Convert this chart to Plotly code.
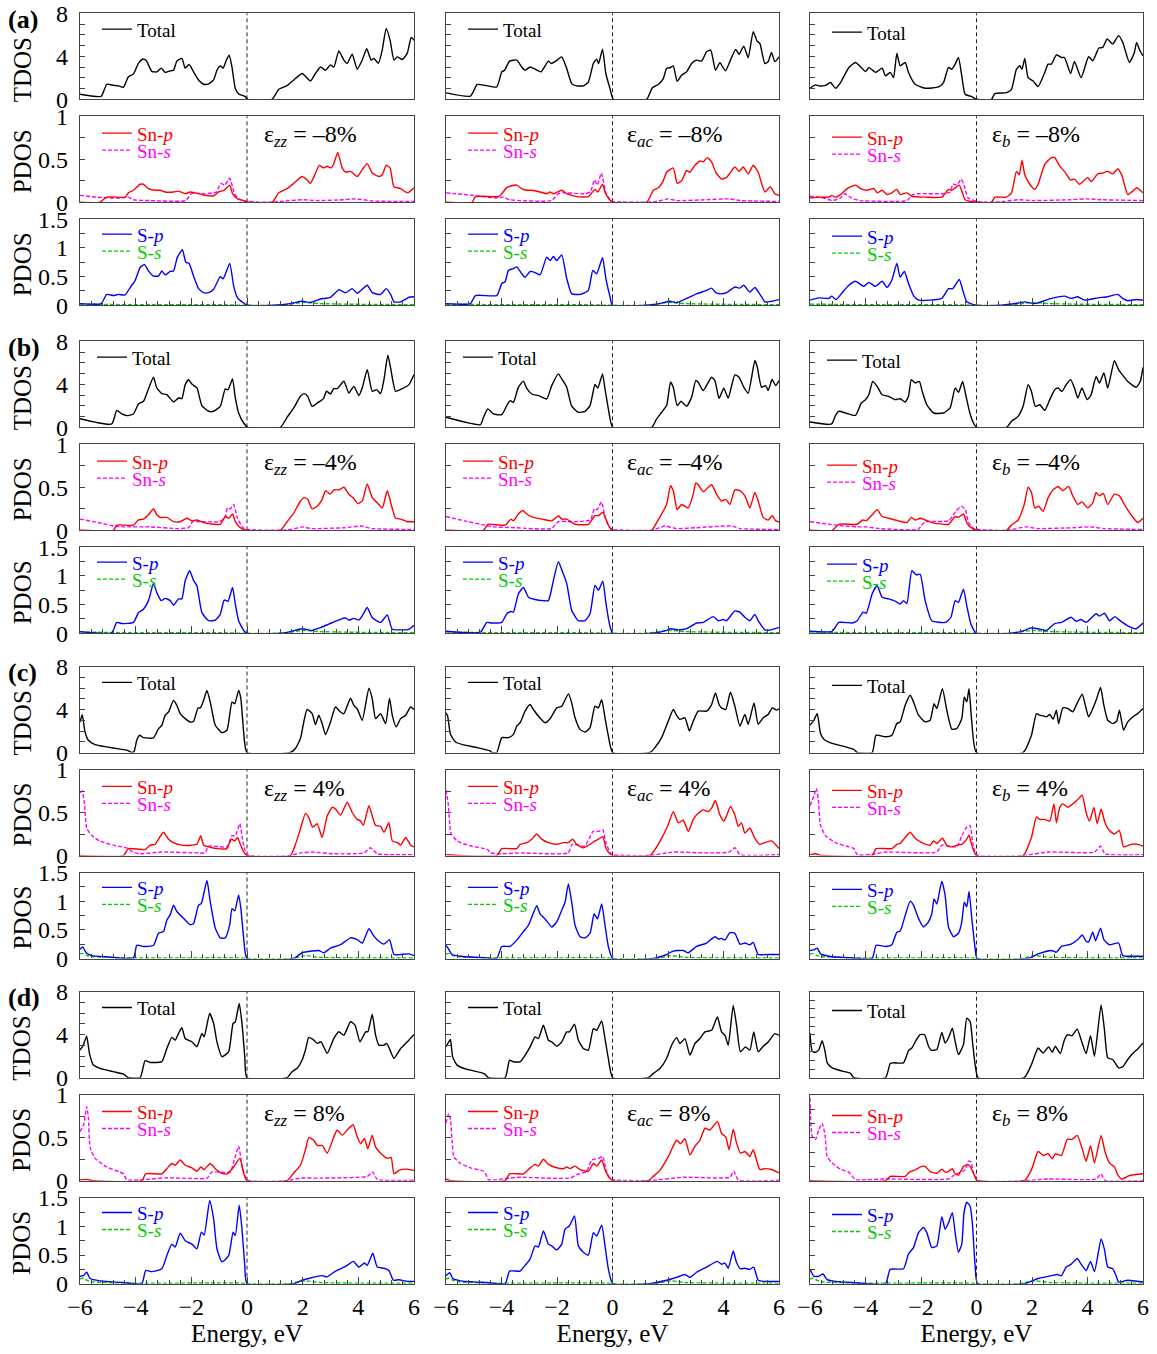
import plotly.graph_objects as go

FONT = "Liberation Serif"
W, H = 1157, 1354
FERMI = 0.0

# ---------------- (a) strain = -8 % ----------------
tdos_zz_m8 = [(-6,0.47),(-5.24,0.28),(-5.04,1.4),(-4.8,1.3),(-4.62,1.25),(-4.44,1.1),(-4.26,2.1),(-4.08,2.35),(-3.9,3.35),(-3.74,3.75),(-3.62,3.6),(-3.42,2.6),(-3.24,2.55),(-3.08,2.9),(-2.94,2.5),(-2.76,2.65),(-2.64,2.7),(-2.52,3.55),(-2.34,3.8),(-2.22,2.9),(-2.08,3.25),(-1.92,2.55),(-1.74,1.8),(-1.56,1.4),(-1.38,1.43),(-1.2,1.8),(-1.08,2.7),(-0.96,3.1),(-0.86,2.9),(-0.74,3.65),(-0.64,4.1),(-0.54,3.0),(-0.42,1.0),(-0.3,0.5),(-0.06,0.25),(0.02,0.0),(0.9,0.0),(1.14,0.93),(1.44,1.27),(1.68,1.8),(1.98,2.4),(2.1,2.15),(2.28,1.7),(2.46,2.4),(2.64,3.0),(2.82,2.7),(3.0,3.2),(3.12,3.0),(3.3,4.5),(3.48,3.65),(3.6,3.35),(3.78,4.2),(3.96,2.8),(4.14,3.65),(4.3,4.7),(4.46,3.65),(4.56,3.8),(4.72,3.35),(4.86,4.6),(5.0,6.6),(5.14,5.5),(5.28,3.65),(5.4,3.95),(5.58,3.7),(5.76,4.3),(5.9,5.75),(6.0,5.5)]
snp_zz_m8 = [(-6,0),(-5.3,0),(-5.04,0.06),(-4.38,0.06),(-4.26,0.11),(-4.08,0.14),(-3.84,0.21),(-3.72,0.21),(-3.54,0.16),(-3.3,0.14),(-3.12,0.14),(-2.94,0.12),(-2.64,0.12),(-2.46,0.13),(-2.22,0.1),(-2.04,0.12),(-1.86,0.11),(-1.56,0.085),(-1.2,0.075),(-1.02,0.12),(-0.82,0.14),(-0.62,0.2),(-0.52,0.1),(-0.34,0.04),(-0.12,0.02),(0.06,0),(0.9,0),(1.14,0.11),(1.44,0.16),(1.68,0.22),(1.98,0.3),(2.16,0.26),(2.28,0.22),(2.46,0.34),(2.6,0.43),(2.74,0.4),(2.88,0.42),(3.02,0.4),(3.12,0.45),(3.26,0.58),(3.42,0.4),(3.54,0.35),(3.72,0.36),(3.96,0.3),(4.14,0.38),(4.32,0.45),(4.5,0.34),(4.74,0.3),(4.86,0.32),(5.0,0.43),(5.14,0.4),(5.28,0.18),(5.52,0.16),(5.76,0.11),(6,0.17)]
sns_zz_m8 = [(-6,0.08),(-5.4,0.06),(-4.9,0.05),(-4.5,0.05),(-4.26,0.06),(-4.1,0.03),(-3.5,0.02),(-2.2,0.02),(-2.0,0.1),(-1.5,0.1),(-1.1,0.12),(-0.95,0.22),(-0.8,0.2),(-0.62,0.28),(-0.45,0.1),(-0.3,0.04),(0,0.01),(0.9,0),(1.2,0.01),(2.0,0.03),(2.5,0.02),(3.5,0.03),(3.75,0.04),(4.2,0.03),(4.5,0.015),(6,0.01)]
sp_zz_m8 = [(-6,0.03),(-5.24,0.03),(-5.04,0.19),(-4.8,0.17),(-4.62,0.19),(-4.38,0.18),(-4.2,0.31),(-4.02,0.43),(-3.84,0.66),(-3.68,0.71),(-3.54,0.6),(-3.36,0.51),(-3.18,0.51),(-3.06,0.6),(-2.94,0.53),(-2.76,0.59),(-2.64,0.6),(-2.5,0.84),(-2.32,0.97),(-2.2,0.75),(-2.08,0.73),(-1.92,0.51),(-1.74,0.29),(-1.56,0.22),(-1.38,0.22),(-1.2,0.28),(-0.96,0.5),(-0.86,0.46),(-0.62,0.73),(-0.48,0.34),(-0.34,0.13),(-0.12,0.04),(0.02,0),(0.96,0),(1.56,0.03),(1.98,0.07),(2.28,0.05),(2.64,0.11),(3.0,0.14),(3.3,0.27),(3.54,0.22),(3.78,0.29),(3.96,0.21),(4.32,0.35),(4.5,0.22),(4.8,0.19),(5.0,0.29),(5.16,0.19),(5.28,0.06),(5.52,0.06),(5.82,0.14),(6,0.15)]
ss_m8 = [(-6,0.02),(-5,0.015),(-4,0.01),(-1,0.01),(0,0),(1.2,0),(2.0,0.05),(2.6,0.03),(3.5,0.02),(6,0.01)]

tdos_ac_m8 = [(-6,0.6),(-5.12,0.3),(-4.88,1.37),(-4.59,1.3),(-4.17,1.15),(-3.99,2.55),(-3.89,2.7),(-3.71,3.55),(-3.45,3.65),(-3.27,3.0),(-3.15,2.7),(-2.97,3.0),(-2.79,2.8),(-2.58,2.55),(-2.31,3.55),(-2.21,3.33),(-2.07,3.5),(-1.83,3.95),(-1.65,2.87),(-1.47,1.46),(-1.29,1.25),(-1.05,1.25),(-0.87,1.6),(-0.69,3.33),(-0.57,3.74),(-0.5,3.33),(-0.36,4.67),(-0.24,2.4),(-0.09,1.0),(0.03,0),(1.23,0),(1.43,1.06),(1.65,1.37),(1.83,1.93),(1.95,2.87),(2.09,2.96),(2.19,3.1),(2.33,1.68),(2.49,2.24),(2.67,2.55),(2.85,3.33),(3.03,3.64),(3.21,3.55),(3.39,4.42),(3.54,4.58),(3.71,2.7),(3.87,3.4),(4.07,2.65),(4.25,3.64),(4.44,4.64),(4.56,4.17),(4.73,4.95),(4.89,3.86),(5.07,6.3),(5.21,5.42),(5.31,5.2),(5.49,3.33),(5.61,3.5),(5.73,4.36),(5.85,3.5),(6.0,3.95)]
snp_ac_m8 = [(-6,0),(-5.06,0),(-4.94,0.066),(-4.1,0.066),(-3.99,0.1),(-3.81,0.17),(-3.66,0.19),(-3.45,0.2),(-3.27,0.16),(-3.09,0.14),(-2.91,0.14),(-2.61,0.12),(-2.37,0.1),(-2.25,0.12),(-2.13,0.1),(-1.83,0.14),(-1.65,0.1),(-1.29,0.066),(-0.87,0.066),(-0.63,0.15),(-0.53,0.12),(-0.36,0.21),(-0.27,0.12),(-0.15,0.05),(0,0),(1.23,0),(1.47,0.14),(1.65,0.17),(1.83,0.25),(1.95,0.35),(2.19,0.4),(2.33,0.22),(2.49,0.25),(2.67,0.37),(2.79,0.35),(2.97,0.43),(3.15,0.48),(3.27,0.47),(3.41,0.52),(3.57,0.47),(3.72,0.35),(3.93,0.27),(4.11,0.29),(4.41,0.41),(4.56,0.36),(4.71,0.41),(4.89,0.33),(5.07,0.43),(5.25,0.35),(5.49,0.12),(5.69,0.18),(5.85,0.1),(6,0.08)]
sns_ac_m8 = [(-6,0.11),(-5,0.08),(-4.2,0.05),(-3.95,0.06),(-3.7,0.03),(-2.2,0.02),(-1.95,0.1),(-1.8,0.11),(-1.0,0.1),(-0.8,0.12),(-0.65,0.26),(-0.55,0.2),(-0.4,0.34),(-0.25,0.12),(-0.1,0.03),(0,0.01),(1.2,0),(1.6,0.01),(2.0,0.04),(2.3,0.02),(3.4,0.03),(4.2,0.04),(4.6,0.02),(6,0.01)]
sp_ac_m8 = [(-6,0.03),(-5.12,0.03),(-4.94,0.17),(-4.17,0.17),(-3.99,0.38),(-3.87,0.41),(-3.75,0.61),(-3.57,0.64),(-3.45,0.67),(-3.27,0.55),(-3.15,0.49),(-2.97,0.59),(-2.79,0.57),(-2.61,0.53),(-2.37,0.84),(-2.25,0.78),(-2.13,0.85),(-2.01,0.78),(-1.83,0.88),(-1.65,0.47),(-1.47,0.2),(-1.17,0.19),(-0.87,0.26),(-0.71,0.61),(-0.57,0.55),(-0.36,0.83),(-0.24,0.47),(-0.09,0.15),(0,0),(1.23,0),(1.71,0.03),(2.07,0.07),(2.31,0.05),(2.67,0.12),(3.03,0.2),(3.39,0.26),(3.57,0.3),(3.72,0.22),(3.87,0.2),(4.11,0.22),(4.41,0.32),(4.59,0.3),(4.73,0.35),(4.95,0.23),(5.13,0.31),(5.37,0.15),(5.49,0.06),(5.73,0.07),(5.91,0.09),(6,0.1)]

tdos_b_m8 = [(-6,1.03),(-5.8,1.34),(-5.68,1.25),(-5.44,1.3),(-5.26,1.56),(-5.08,1.03),(-4.9,1.56),(-4.6,2.96),(-4.36,3.43),(-4.18,3.02),(-4.0,2.59),(-3.88,2.96),(-3.64,2.5),(-3.4,2.9),(-3.28,2.18),(-3.11,2.5),(-2.99,2.02),(-2.87,4.27),(-2.75,3.12),(-2.57,3.43),(-2.45,2.5),(-2.21,1.4),(-1.85,1.03),(-1.37,1.15),(-1.19,1.56),(-1.01,2.96),(-0.89,2.8),(-0.77,3.27),(-0.65,3.89),(-0.53,2.18),(-0.41,0.47),(-0.17,0.25),(0,0),(0.54,0),(0.66,0.53),(1.08,0.62),(1.26,0.93),(1.44,2.8),(1.56,3.12),(1.64,2.8),(1.74,3.8),(1.86,2.02),(2.04,1.71),(2.22,1.18),(2.46,2.5),(2.58,3.27),(2.7,3.27),(2.88,4.14),(3.06,3.89),(3.17,3.89),(3.39,2.4),(3.53,3.52),(3.77,2.02),(4.04,3.96),(4.19,3.58),(4.41,4.77),(4.55,4.83),(4.71,5.61),(4.91,5.14),(5.12,5.92),(5.27,5.3),(5.51,3.43),(5.69,4.36),(5.77,5.3),(5.89,4.52),(6,4.05)]
snp_b_m8 = [(-6,0.05),(-5.68,0.06),(-5.32,0.06),(-5.22,0.08),(-5.08,0.06),(-4.9,0.09),(-4.66,0.16),(-4.36,0.2),(-4.18,0.16),(-3.94,0.14),(-3.7,0.16),(-3.58,0.11),(-3.4,0.14),(-3.22,0.09),(-3.05,0.11),(-2.87,0.15),(-2.75,0.09),(-2.51,0.11),(-2.33,0.07),(-1.85,0.06),(-1.25,0.06),(-1.01,0.15),(-0.89,0.14),(-0.62,0.2),(-0.53,0.13),(-0.41,0.03),(0,0),(0.54,0),(0.66,0.06),(1.08,0.06),(1.26,0.11),(1.44,0.36),(1.54,0.32),(1.64,0.49),(1.74,0.32),(1.92,0.21),(2.1,0.15),(2.22,0.21),(2.46,0.44),(2.7,0.52),(2.82,0.52),(3.0,0.42),(3.17,0.36),(3.39,0.26),(3.53,0.27),(3.71,0.21),(4.01,0.29),(4.13,0.24),(4.37,0.33),(4.55,0.34),(4.73,0.36),(4.91,0.33),(5.09,0.39),(5.23,0.32),(5.45,0.09),(5.63,0.13),(5.77,0.17),(6,0.11)]
sns_b_m8 = [(-6,0.07),(-5.5,0.05),(-5.2,0.02),(-4.9,0.05),(-4.75,0.1),(-4.5,0.05),(-4.2,0.02),(-2.8,0.01),(-2.5,0.02),(-2.3,0.09),(-2.1,0.1),(-1.2,0.1),(-0.95,0.12),(-0.85,0.21),(-0.7,0.2),(-0.55,0.27),(-0.45,0.2),(-0.3,0.05),(0,0.01),(0.6,0),(1.0,0.01),(1.5,0.03),(2.0,0.02),(3.4,0.03),(4.0,0.04),(4.5,0.03),(6,0.02)]
sp_b_m8 = [(-6,0.09),(-5.68,0.13),(-5.32,0.12),(-5.22,0.16),(-5.06,0.1),(-4.84,0.22),(-4.6,0.35),(-4.36,0.42),(-4.06,0.33),(-3.88,0.4),(-3.64,0.33),(-3.4,0.42),(-3.22,0.31),(-3.05,0.44),(-2.87,0.73),(-2.75,0.49),(-2.6,0.59),(-2.45,0.38),(-2.27,0.17),(-2.09,0.09),(-1.25,0.12),(-1.01,0.29),(-0.86,0.29),(-0.62,0.45),(-0.51,0.29),(-0.35,0.06),(0,0),(0.9,0),(1.5,0.04),(1.74,0.06),(2.1,0.03),(2.7,0.12),(3.17,0.16),(3.41,0.12),(3.65,0.15),(3.89,0.09),(4.37,0.13),(4.73,0.15),(5.09,0.19),(5.27,0.12),(5.45,0.08),(5.75,0.1),(6,0.09)]

# ---------------- (b) strain = -4 % ----------------
tdos_zz_m4 = [(-6,0.8),(-4.86,0.31),(-4.68,1.58),(-4.5,1.24),(-4.32,1.09),(-4.08,1.24),(-3.9,2.17),(-3.72,2.42),(-3.54,3.57),(-3.36,4.65),(-3.24,3.66),(-3.06,3.13),(-2.88,3.04),(-2.64,2.36),(-2.46,2.73),(-2.34,2.67),(-2.22,3.97),(-2.1,4.43),(-1.98,4.03),(-1.8,3.66),(-1.62,2.02),(-1.38,1.49),(-1.2,1.49),(-0.96,1.95),(-0.78,3.57),(-0.68,3.5),(-0.52,4.5),(-0.42,2.73),(-0.3,1.33),(-0.12,0.4),(0.02,0),(1.2,0),(1.44,0.93),(1.68,1.8),(1.92,2.88),(2.06,3.13),(2.18,2.88),(2.34,1.95),(2.58,2.36),(2.74,2.64),(2.86,3.35),(3.0,3.1),(3.12,3.6),(3.24,3.6),(3.48,4.28),(3.66,3.19),(3.84,3.81),(4.02,2.95),(4.14,3.66),(4.32,5.36),(4.5,3.35),(4.66,3.5),(4.8,3.13),(4.92,4.43),(5.06,6.7),(5.16,5.52),(5.34,3.35),(5.58,3.6),(5.82,3.97),(6,4.9)]
snp_zz_m4 = [(-6,0),(-4.8,0),(-4.68,0.06),(-4.08,0.06),(-3.9,0.12),(-3.72,0.13),(-3.54,0.18),(-3.36,0.25),(-3.24,0.18),(-3.12,0.15),(-2.88,0.15),(-2.64,0.1),(-2.4,0.1),(-2.16,0.14),(-1.98,0.11),(-1.8,0.12),(-1.56,0.09),(-1.2,0.07),(-0.96,0.07),(-0.78,0.16),(-0.66,0.14),(-0.52,0.19),(-0.42,0.1),(-0.24,0.03),(0,0),(1.2,0),(1.44,0.1),(1.68,0.2),(1.92,0.34),(2.06,0.38),(2.18,0.36),(2.34,0.25),(2.52,0.28),(2.7,0.36),(2.82,0.46),(3.0,0.42),(3.12,0.47),(3.3,0.47),(3.48,0.5),(3.66,0.42),(3.84,0.37),(3.98,0.31),(4.14,0.34),(4.32,0.54),(4.5,0.38),(4.68,0.32),(4.86,0.26),(5.04,0.46),(5.18,0.3),(5.34,0.14),(5.52,0.13),(5.76,0.1),(6,0.1)]
sns_zz_m4 = [(-6,0.13),(-5.2,0.08),(-4.8,0.05),(-4.4,0.04),(-3.5,0.04),(-2.5,0.02),(-2.1,0.03),(-1.95,0.1),(-1.6,0.1),(-1.0,0.1),(-0.8,0.14),(-0.7,0.26),(-0.6,0.25),(-0.48,0.3),(-0.35,0.15),(-0.15,0.03),(0,0.01),(1.2,0),(1.6,0.01),(2.0,0.04),(2.3,0.02),(3.5,0.03),(4.1,0.05),(4.5,0.02),(6,0.01)]
sp_zz_m4 = [(-6,0.03),(-4.86,0.01),(-4.68,0.19),(-4.5,0.17),(-4.08,0.19),(-3.9,0.36),(-3.72,0.42),(-3.54,0.57),(-3.36,0.87),(-3.24,0.71),(-3.08,0.57),(-2.94,0.61),(-2.76,0.57),(-2.64,0.49),(-2.46,0.6),(-2.34,0.6),(-2.22,0.92),(-2.06,1.09),(-1.92,0.92),(-1.8,0.83),(-1.62,0.36),(-1.38,0.22),(-1.14,0.23),(-0.96,0.33),(-0.82,0.58),(-0.68,0.56),(-0.52,0.8),(-0.42,0.51),(-0.3,0.22),(-0.12,0.05),(0.02,0),(1.2,0),(1.56,0.03),(1.98,0.08),(2.34,0.05),(2.64,0.1),(2.94,0.16),(3.24,0.22),(3.54,0.27),(3.66,0.23),(3.84,0.26),(4.02,0.23),(4.16,0.32),(4.32,0.45),(4.5,0.27),(4.8,0.19),(5.04,0.32),(5.22,0.07),(5.52,0.06),(5.82,0.07),(6,0.14)]
ss_m4 = [(-6,0.025),(-5,0.015),(-4,0.01),(-1,0.01),(0,0),(1.2,0),(2.0,0.05),(2.6,0.03),(3.5,0.02),(6,0.01)]

tdos_ac_m4 = [(-6,0.93),(-4.76,0.25),(-4.65,0.93),(-4.49,1.71),(-4.29,1.24),(-3.99,1.18),(-3.81,2.02),(-3.69,2.48),(-3.57,2.33),(-3.39,3.73),(-3.21,4.29),(-3.09,3.63),(-2.91,3.1),(-2.67,2.95),(-2.37,2.64),(-2.19,3.88),(-1.95,4.97),(-1.83,4.5),(-1.65,3.73),(-1.47,1.96),(-1.23,1.4),(-0.99,1.49),(-0.81,2.02),(-0.63,3.98),(-0.53,3.66),(-0.36,4.97),(-0.27,3.57),(-0.15,1.71),(0.01,0),(1.41,0),(1.59,0.78),(1.77,1.4),(1.95,2.02),(2.09,4.19),(2.19,3.73),(2.33,2.02),(2.47,2.42),(2.67,1.96),(2.85,2.8),(3.0,4.35),(3.09,4.19),(3.27,3.42),(3.57,4.66),(3.69,4.35),(3.84,2.7),(4.01,3.63),(4.17,2.73),(4.41,4.88),(4.56,4.66),(4.73,3.73),(4.89,3.17),(5.13,6.21),(5.21,5.68),(5.37,3.73),(5.52,3.88),(5.61,3.42),(5.75,4.44),(5.88,3.88),(6,4.35)]
snp_ac_m4 = [(-6,0),(-4.65,0),(-4.49,0.07),(-3.87,0.06),(-3.66,0.13),(-3.57,0.11),(-3.39,0.19),(-3.23,0.23),(-3.09,0.19),(-2.85,0.15),(-2.55,0.13),(-2.19,0.11),(-1.95,0.17),(-1.83,0.13),(-1.65,0.13),(-1.35,0.07),(-0.87,0.07),(-0.63,0.17),(-0.51,0.17),(-0.35,0.21),(-0.24,0.13),(-0.12,0.04),(0.01,0),(1.41,0),(1.59,0.09),(1.77,0.19),(1.95,0.3),(2.09,0.52),(2.19,0.46),(2.33,0.24),(2.49,0.3),(2.73,0.26),(2.91,0.42),(3.0,0.55),(3.09,0.53),(3.27,0.45),(3.57,0.53),(3.75,0.42),(3.93,0.34),(4.08,0.36),(4.23,0.3),(4.41,0.47),(4.59,0.46),(4.77,0.4),(4.95,0.26),(5.13,0.44),(5.25,0.34),(5.43,0.15),(5.61,0.12),(5.76,0.17),(5.88,0.11),(6,0.1)]
sns_ac_m4 = [(-6,0.16),(-5.2,0.1),(-4.6,0.06),(-4.3,0.04),(-3.5,0.03),(-2.2,0.02),(-1.95,0.1),(-1.5,0.1),(-0.8,0.12),(-0.65,0.25),(-0.55,0.24),(-0.4,0.33),(-0.25,0.14),(-0.1,0.03),(0,0.01),(1.4,0),(1.9,0.05),(2.3,0.02),(3.0,0.03),(4.3,0.05),(4.6,0.02),(6,0.01)]
sp_ac_m4 = [(-6,0.035),(-4.76,0.02),(-4.53,0.19),(-4.35,0.18),(-3.99,0.19),(-3.81,0.34),(-3.66,0.38),(-3.57,0.37),(-3.39,0.69),(-3.21,0.8),(-3.03,0.63),(-2.79,0.59),(-2.49,0.57),(-2.31,0.57),(-2.13,0.92),(-1.95,1.25),(-1.83,1.11),(-1.65,0.87),(-1.47,0.4),(-1.23,0.22),(-0.99,0.22),(-0.81,0.34),(-0.63,0.84),(-0.51,0.75),(-0.35,0.91),(-0.24,0.54),(-0.11,0.16),(0.01,0),(1.47,0),(1.95,0.05),(2.09,0.08),(2.37,0.06),(2.67,0.08),(3.03,0.18),(3.27,0.19),(3.63,0.29),(3.81,0.22),(3.99,0.24),(4.11,0.22),(4.41,0.39),(4.59,0.37),(4.77,0.28),(4.95,0.22),(5.13,0.33),(5.25,0.22),(5.49,0.06),(5.73,0.06),(5.91,0.09),(6,0.1)]

tdos_b_m4 = [(-6,0.5),(-5.22,0.31),(-5.08,1.11),(-4.96,1.49),(-4.72,1.33),(-4.36,1.11),(-4.15,2.26),(-4.0,2.57),(-3.88,3.03),(-3.74,4.27),(-3.58,3.81),(-3.4,3.03),(-3.17,2.88),(-2.93,2.57),(-2.75,2.66),(-2.57,2.35),(-2.45,2.88),(-2.35,4.43),(-2.21,4.12),(-2.06,4.27),(-1.94,3.19),(-1.79,2.1),(-1.55,1.33),(-1.19,1.33),(-0.95,1.8),(-0.77,3.65),(-0.65,3.25),(-0.5,4.27),(-0.39,3.03),(-0.23,1.24),(-0.11,0.4),(0,0),(1.08,0),(1.26,0.56),(1.5,1.02),(1.68,1.95),(1.86,3.96),(1.98,3.34),(2.12,1.95),(2.28,2.1),(2.46,1.58),(2.64,2.57),(2.82,3.5),(2.94,3.65),(3.08,3.34),(3.23,3.96),(3.39,4.43),(3.53,3.65),(3.65,2.72),(3.8,3.65),(3.99,2.57),(4.13,3.03),(4.31,4.74),(4.43,4.12),(4.59,5.05),(4.73,3.65),(4.97,6.19),(5.12,5.36),(5.45,4.27),(5.75,3.72),(5.9,4.27),(6,5.57)]
snp_b_m4 = [(-6,0),(-5.2,0),(-4.96,0.07),(-4.3,0.07),(-4.1,0.12),(-3.98,0.11),(-3.76,0.18),(-3.58,0.24),(-3.4,0.16),(-3.17,0.14),(-2.81,0.11),(-2.51,0.09),(-2.35,0.15),(-2.21,0.12),(-2.03,0.14),(-1.85,0.12),(-1.61,0.09),(-1.01,0.07),(-0.77,0.16),(-0.65,0.15),(-0.47,0.19),(-0.35,0.09),(-0.23,0.04),(0,0),(1.08,0),(1.26,0.06),(1.5,0.12),(1.72,0.3),(1.86,0.5),(1.98,0.44),(2.1,0.26),(2.24,0.28),(2.4,0.22),(2.58,0.38),(2.76,0.47),(2.94,0.51),(3.11,0.46),(3.32,0.51),(3.47,0.4),(3.65,0.3),(3.8,0.33),(4.01,0.26),(4.19,0.32),(4.31,0.44),(4.43,0.4),(4.57,0.43),(4.73,0.3),(4.97,0.42),(5.15,0.4),(5.33,0.3),(5.57,0.18),(5.81,0.09),(6,0.14)]
sns_b_m4 = [(-6,0.1),(-5.3,0.07),(-4.8,0.05),(-4.3,0.04),(-4.0,0.04),(-3.5,0.02),(-2.1,0.01),(-2.0,0.05),(-1.85,0.1),(-1.0,0.11),(-0.75,0.22),(-0.55,0.28),(-0.4,0.24),(-0.3,0.1),(-0.1,0.02),(0,0.01),(1.1,0),(1.8,0.04),(2.2,0.02),(3.5,0.03),(4.1,0.04),(4.6,0.02),(6,0.01)]
sp_b_m4 = [(-6,0.035),(-5.2,0.035),(-4.96,0.19),(-4.48,0.18),(-4.3,0.22),(-4.09,0.37),(-3.97,0.35),(-3.76,0.69),(-3.58,0.83),(-3.4,0.63),(-3.17,0.6),(-2.93,0.56),(-2.75,0.51),(-2.63,0.57),(-2.51,0.52),(-2.33,1.09),(-2.17,1.02),(-2.03,1.03),(-1.85,0.57),(-1.61,0.22),(-1.13,0.19),(-0.92,0.28),(-0.77,0.57),(-0.65,0.54),(-0.47,0.77),(-0.35,0.48),(-0.2,0.16),(0,0),(1.26,0),(1.74,0.05),(1.92,0.09),(2.22,0.08),(2.52,0.05),(2.82,0.17),(3.06,0.19),(3.41,0.28),(3.59,0.21),(3.77,0.24),(3.95,0.19),(4.31,0.34),(4.43,0.3),(4.61,0.35),(4.79,0.22),(4.99,0.29),(5.15,0.23),(5.45,0.13),(5.75,0.08),(6,0.18)]

# ---------------- (c) strain = +4 % ----------------
tdos_zz_p4 = [(-6,2.84),(-5.92,3.52),(-5.82,1.91),(-5.7,1.14),(-5.46,0.74),(-5.04,0.52),(-4.56,0.31),(-4.32,0.22),(-4.14,0),(-4.06,0.06),(-3.96,1.14),(-3.86,1.6),(-3.72,1.39),(-3.36,1.36),(-3.18,2.22),(-3.06,2.53),(-2.94,3.46),(-2.82,3.77),(-2.64,4.85),(-2.52,4.38),(-2.4,3.61),(-2.22,3.15),(-2.04,2.84),(-1.92,2.9),(-1.76,4.14),(-1.68,4.14),(-1.58,4.69),(-1.44,5.77),(-1.32,4.69),(-1.14,2.53),(-0.9,1.85),(-0.72,2.07),(-0.54,4.69),(-0.44,4.54),(-0.3,5.77),(-0.22,5.0),(-0.12,1.91),(0,0),(1.56,0),(1.74,0.37),(1.92,1.3),(2.04,2.84),(2.16,4.01),(2.34,3.61),(2.46,2.59),(2.58,3.46),(2.7,2.69),(2.82,1.67),(3.0,2.84),(3.18,4.23),(3.36,3.77),(3.48,3.61),(3.72,5.06),(3.84,4.38),(3.96,4.07),(4.14,2.99),(4.38,5.99),(4.5,5.0),(4.62,3.15),(4.8,3.61),(4.98,2.69),(5.12,5.06),(5.22,3.46),(5.36,2.38),(5.52,3.15),(5.7,3.46),(5.88,4.23),(6,4.01)]
snp_zz_p4 = [(-6,0),(-4.44,0),(-4.26,0.08),(-3.66,0.07),(-3.48,0.12),(-3.3,0.13),(-3.14,0.21),(-3.0,0.27),(-2.82,0.19),(-2.64,0.15),(-2.34,0.12),(-1.98,0.12),(-1.8,0.13),(-1.66,0.23),(-1.56,0.12),(-1.38,0.1),(-1.08,0.08),(-0.72,0.08),(-0.56,0.19),(-0.44,0.17),(-0.34,0.21),(-0.24,0.13),(-0.12,0.04),(0,0),(1.56,0),(1.74,0.13),(1.92,0.31),(2.1,0.49),(2.22,0.44),(2.36,0.33),(2.52,0.37),(2.7,0.21),(2.88,0.46),(3.06,0.56),(3.18,0.54),(3.36,0.47),(3.6,0.62),(3.78,0.5),(3.96,0.42),(4.08,0.4),(4.18,0.35),(4.38,0.58),(4.5,0.46),(4.62,0.35),(4.8,0.34),(4.92,0.27),(5.1,0.38),(5.22,0.17),(5.4,0.15),(5.52,0.12),(5.7,0.21),(5.88,0.12),(6,0.1)]
sns_zz_p4 = [(-6,0.73),(-5.92,0.75),(-5.84,0.6),(-5.76,0.32),(-5.6,0.24),(-5.3,0.17),(-4.8,0.12),(-4.3,0.085),(-4.1,0.04),(-3.85,0.02),(-3.1,0.04),(-1.7,0.03),(-1.5,0.03),(-1.38,0.11),(-0.72,0.1),(-0.55,0.23),(-0.42,0.23),(-0.26,0.37),(-0.14,0.15),(0,0.01),(1.56,0),(1.92,0.03),(2.34,0.04),(3.1,0.02),(4.2,0.03),(4.44,0.09),(4.68,0.02),(6,0.01)]
sp_zz_p4 = [(-6,0.16),(-5.9,0.2),(-5.78,0.1),(-5.58,0.05),(-5.04,0.03),(-4.08,0.01),(-3.96,0.23),(-3.72,0.21),(-3.36,0.23),(-3.18,0.44),(-3.0,0.47),(-2.88,0.67),(-2.76,0.76),(-2.64,0.93),(-2.52,0.82),(-2.28,0.7),(-2.04,0.59),(-1.92,0.61),(-1.74,0.93),(-1.64,0.96),(-1.44,1.36),(-1.32,0.99),(-1.14,0.53),(-0.96,0.36),(-0.78,0.36),(-0.62,0.59),(-0.54,0.87),(-0.44,0.83),(-0.3,1.11),(-0.22,0.87),(-0.12,0.36),(0,0),(1.68,0),(1.98,0.1),(2.34,0.13),(2.58,0.14),(2.76,0.1),(3.0,0.18),(3.36,0.24),(3.72,0.36),(3.96,0.33),(4.14,0.27),(4.38,0.52),(4.56,0.39),(4.74,0.3),(4.92,0.25),(5.12,0.33),(5.28,0.07),(5.52,0.07),(5.82,0.08),(6,0.05)]
ss_p4 = [(-6,0.08),(-5.9,0.09),(-5.75,0.05),(-5.5,0.03),(-5.0,0.02),(-4.5,0.01),(-0.2,0.01),(0,0),(1.6,0),(2.1,0.05),(2.6,0.02),(4,0.01),(6,0.01)]

tdos_ac_p4 = [(-6,3.69),(-5.94,3.38),(-5.84,1.69),(-5.66,0.98),(-5.36,0.71),(-4.88,0.46),(-4.41,0.15),(-4.35,0),(-4.17,0),(-3.99,1.38),(-3.75,1.38),(-3.57,1.69),(-3.45,2.46),(-3.33,2.77),(-3.15,3.85),(-2.97,4.46),(-2.85,4.0),(-2.67,3.38),(-2.43,2.77),(-2.25,3.14),(-2.01,4.15),(-1.83,4.31),(-1.59,5.45),(-1.47,4.62),(-1.35,3.23),(-1.17,2.15),(-0.99,1.91),(-0.81,2.31),(-0.63,4.31),(-0.51,4.15),(-0.39,4.92),(-0.27,3.23),(-0.15,1.54),(0.01,0),(1.35,0),(1.53,0.46),(1.77,1.38),(2.01,2.92),(2.19,4.0),(2.31,3.45),(2.43,3.08),(2.61,3.23),(2.77,2.0),(2.91,2.92),(3.09,3.85),(3.39,3.85),(3.57,4.46),(3.71,5.54),(3.84,4.46),(3.93,4.15),(4.08,4.0),(4.25,5.6),(4.41,4.31),(4.59,2.46),(4.77,3.54),(4.89,2.62),(5.1,4.62),(5.25,2.62),(5.43,3.23),(5.61,3.54),(5.76,4.15),(5.91,3.94),(6,4.06)]
snp_ac_p4 = [(-6,0.01),(-5.5,0),(-4.17,0),(-3.99,0.08),(-3.45,0.08),(-3.33,0.13),(-3.09,0.15),(-2.91,0.19),(-2.73,0.25),(-2.55,0.19),(-2.31,0.15),(-2.01,0.13),(-1.77,0.15),(-1.59,0.15),(-1.44,0.19),(-1.29,0.13),(-1.05,0.09),(-0.81,0.13),(-0.63,0.17),(-0.51,0.19),(-0.35,0.22),(-0.24,0.09),(-0.15,0.04),(0.01,0),(1.35,0),(1.53,0.07),(1.77,0.2),(2.01,0.36),(2.19,0.51),(2.37,0.38),(2.55,0.41),(2.73,0.28),(2.91,0.42),(3.09,0.49),(3.27,0.53),(3.45,0.51),(3.57,0.55),(3.71,0.64),(3.87,0.47),(4.01,0.4),(4.11,0.46),(4.25,0.57),(4.41,0.47),(4.53,0.34),(4.65,0.38),(4.77,0.26),(4.95,0.32),(5.13,0.2),(5.31,0.13),(5.49,0.15),(5.73,0.17),(6,0.08)]
sns_ac_p4 = [(-6,0.76),(-5.92,0.6),(-5.82,0.26),(-5.6,0.17),(-5.1,0.11),(-4.5,0.07),(-4.4,0.03),(-4.1,0.02),(-3.3,0.03),(-1.6,0.03),(-1.45,0.13),(-1.0,0.11),(-0.7,0.28),(-0.5,0.28),(-0.35,0.3),(-0.24,0.15),(-0.08,0.03),(0,0.01),(1.35,0),(2.2,0.04),(3.3,0.03),(4.2,0.04),(4.41,0.09),(4.6,0.01),(6,0.01)]
sp_ac_p4 = [(-6,0.23),(-5.94,0.19),(-5.78,0.07),(-5.48,0.04),(-4.53,0.01),(-4.17,0),(-3.99,0.21),(-3.69,0.21),(-3.45,0.32),(-3.21,0.47),(-3.03,0.58),(-2.91,0.72),(-2.73,0.92),(-2.61,0.78),(-2.43,0.69),(-2.19,0.55),(-2.01,0.64),(-1.83,0.84),(-1.71,0.98),(-1.59,1.3),(-1.47,0.98),(-1.35,0.58),(-1.17,0.38),(-0.99,0.36),(-0.81,0.44),(-0.66,0.78),(-0.54,0.69),(-0.39,0.95),(-0.27,0.58),(-0.15,0.21),(0.01,0),(1.47,0),(1.95,0.07),(2.19,0.13),(2.55,0.14),(2.73,0.1),(3.03,0.21),(3.39,0.27),(3.69,0.38),(3.81,0.34),(3.93,0.35),(4.05,0.32),(4.23,0.45),(4.41,0.44),(4.59,0.25),(4.77,0.27),(4.95,0.24),(5.07,0.28),(5.25,0.07),(5.55,0.07),(6,0.07)]

tdos_b_p4 = [(-6,2.54),(-5.86,3.0),(-5.74,3.62),(-5.62,1.76),(-5.5,1.24),(-5.2,0.84),(-4.72,0.53),(-4.42,0.28),(-4.3,0),(-3.76,0),(-3.62,1.61),(-3.28,1.46),(-3.05,1.61),(-2.87,2.69),(-2.75,2.85),(-2.57,4.4),(-2.39,5.33),(-2.27,4.71),(-2.09,3.47),(-1.85,2.85),(-1.67,3.0),(-1.53,4.55),(-1.43,4.09),(-1.23,5.94),(-1.07,3.93),(-0.89,2.17),(-0.71,2.23),(-0.53,3.16),(-0.44,5.17),(-0.35,4.71),(-0.27,5.94),(-0.17,2.85),(0,0),(1.68,0),(1.98,1.61),(2.16,3.62),(2.28,3.47),(2.4,3.41),(2.52,3.31),(2.64,3.53),(2.76,3.1),(2.88,3.93),(2.96,2.69),(3.11,4.15),(3.29,4.09),(3.47,3.78),(3.65,4.71),(3.81,5.42),(3.95,4.09),(4.04,3.31),(4.19,4.09),(4.31,4.86),(4.47,6.04),(4.59,4.4),(4.73,3.0),(4.91,2.69),(5.05,2.91),(5.15,3.93),(5.3,2.07),(5.45,2.85),(5.63,3.31),(5.81,3.62),(6,4.09)]
snp_b_p4 = [(-6,0.01),(-5.8,0.02),(-5.56,0),(-3.76,0),(-3.62,0.08),(-3.05,0.08),(-2.87,0.13),(-2.75,0.14),(-2.57,0.21),(-2.39,0.27),(-2.21,0.2),(-1.97,0.15),(-1.67,0.12),(-1.55,0.17),(-1.43,0.14),(-1.23,0.2),(-1.07,0.12),(-0.89,0.1),(-0.71,0.12),(-0.53,0.13),(-0.35,0.19),(-0.27,0.24),(-0.17,0.12),(0,0),(1.68,0),(1.98,0.21),(2.16,0.45),(2.28,0.42),(2.46,0.42),(2.64,0.4),(2.79,0.6),(2.88,0.38),(3.0,0.56),(3.11,0.6),(3.29,0.56),(3.47,0.6),(3.65,0.65),(3.81,0.7),(3.95,0.5),(4.07,0.4),(4.23,0.56),(4.35,0.37),(4.49,0.54),(4.63,0.38),(4.79,0.29),(4.97,0.25),(5.15,0.29),(5.3,0.1),(5.57,0.13),(5.81,0.13),(6,0.11)]
sns_b_p4 = [(-6,0.58),(-5.86,0.69),(-5.77,0.78),(-5.7,0.65),(-5.62,0.35),(-5.44,0.23),(-5.08,0.15),(-4.6,0.1),(-4.42,0.08),(-4.3,0.01),(-3.64,0.02),(-3.28,0.04),(-1.43,0.04),(-1.25,0.12),(-0.71,0.1),(-0.53,0.23),(-0.35,0.33),(-0.23,0.35),(-0.14,0.15),(0,0.01),(1.7,0),(2.58,0.04),(4.25,0.04),(4.47,0.11),(4.63,0.02),(6,0.01)]
sp_b_p4 = [(-6,0.14),(-5.86,0.15),(-5.74,0.18),(-5.62,0.08),(-5.32,0.04),(-4.48,0.01),(-3.76,0),(-3.62,0.23),(-3.28,0.21),(-3.05,0.24),(-2.87,0.46),(-2.75,0.48),(-2.57,0.75),(-2.39,1.0),(-2.27,0.93),(-2.09,0.7),(-1.91,0.55),(-1.73,0.64),(-1.61,0.78),(-1.53,1.04),(-1.43,0.95),(-1.25,1.35),(-1.13,1.1),(-1.01,0.55),(-0.83,0.38),(-0.65,0.44),(-0.53,0.64),(-0.44,0.98),(-0.35,0.9),(-0.27,1.17),(-0.17,0.7),(-0.05,0.18),(0.02,0),(1.86,0),(2.22,0.08),(2.7,0.14),(2.88,0.11),(3.06,0.21),(3.41,0.25),(3.65,0.33),(3.81,0.41),(3.95,0.3),(4.04,0.29),(4.19,0.46),(4.29,0.31),(4.47,0.53),(4.59,0.33),(4.79,0.24),(5.12,0.27),(5.27,0.05),(5.57,0.04),(6,0.04)]

# ---------------- (d) strain = +8 % ----------------
tdos_zz_p8 = [(-6,2.57),(-5.88,3.03),(-5.76,3.87),(-5.66,2.26),(-5.52,1.18),(-5.28,0.87),(-4.8,0.56),(-4.44,0.34),(-4.26,0),(-3.84,0),(-3.66,1.58),(-3.48,1.42),(-3.06,1.49),(-2.88,2.72),(-2.7,3.75),(-2.58,3.5),(-2.46,4.12),(-2.34,4.64),(-2.22,3.65),(-1.98,3.34),(-1.8,2.88),(-1.62,4.12),(-1.54,3.81),(-1.34,5.98),(-1.2,5.05),(-1.08,3.34),(-0.9,1.95),(-0.66,2.41),(-0.5,5.05),(-0.42,5.2),(-0.28,6.9),(-0.18,5.05),(-0.08,1.95),(0,0),(1.44,0),(1.62,0.56),(1.8,0.87),(1.98,1.64),(2.1,2.57),(2.22,3.75),(2.4,3.5),(2.52,3.19),(2.66,3.34),(2.88,2.26),(3.12,3.65),(3.3,4.27),(3.48,3.96),(3.72,5.2),(3.88,4.89),(4.06,3.34),(4.26,4.27),(4.34,4.27),(4.5,5.88),(4.62,3.96),(4.74,3.03),(4.92,3.03),(5.02,3.19),(5.14,2.57),(5.28,1.8),(5.52,2.72),(5.76,3.34),(6,4.02)]
snp_zz_p8 = [(-6,0.01),(-5.76,0.015),(-5.52,0),(-3.78,0),(-3.64,0.08),(-3.06,0.08),(-2.88,0.14),(-2.7,0.2),(-2.58,0.18),(-2.4,0.24),(-2.22,0.18),(-1.98,0.15),(-1.8,0.11),(-1.66,0.16),(-1.54,0.13),(-1.32,0.2),(-1.14,0.14),(-0.9,0.085),(-0.72,0.08),(-0.48,0.16),(-0.26,0.26),(-0.12,0.085),(0,0),(1.44,0),(1.68,0.09),(1.92,0.18),(2.1,0.36),(2.22,0.5),(2.4,0.47),(2.52,0.41),(2.7,0.41),(2.88,0.32),(3.12,0.51),(3.24,0.59),(3.42,0.53),(3.66,0.61),(3.82,0.65),(3.94,0.53),(4.08,0.43),(4.22,0.49),(4.34,0.37),(4.5,0.53),(4.62,0.39),(4.8,0.32),(5.04,0.26),(5.18,0.27),(5.28,0.08),(5.46,0.12),(5.7,0.135),(6,0.12)]
sns_zz_p8 = [(-6,0.57),(-5.86,0.66),(-5.76,0.86),(-5.7,0.74),(-5.64,0.39),(-5.46,0.26),(-5.04,0.16),(-4.56,0.1),(-4.44,0.08),(-4.32,0.01),(-3.6,0.015),(-2.88,0.035),(-1.44,0.03),(-1.26,0.1),(-0.6,0.1),(-0.48,0.22),(-0.3,0.4),(-0.18,0.18),(0,0.01),(1.44,0),(1.92,0.03),(2.64,0.03),(4.32,0.05),(4.52,0.1),(4.68,0.015),(6,0.005)]
sp_zz_p8 = [(-6,0.13),(-5.88,0.14),(-5.76,0.2),(-5.64,0.09),(-5.28,0.05),(-4.44,0.02),(-3.78,0),(-3.64,0.23),(-3.42,0.21),(-3.06,0.26),(-2.88,0.49),(-2.7,0.69),(-2.58,0.64),(-2.4,0.88),(-2.22,0.75),(-1.98,0.69),(-1.8,0.61),(-1.64,0.9),(-1.54,0.85),(-1.34,1.45),(-1.2,1.13),(-1.08,0.61),(-0.9,0.38),(-0.66,0.49),(-0.5,0.9),(-0.42,0.84),(-0.28,1.37),(-0.18,0.95),(-0.08,0.32),(0,0),(1.68,0),(1.98,0.06),(2.28,0.1),(2.7,0.14),(2.88,0.12),(3.12,0.2),(3.36,0.26),(3.6,0.32),(3.82,0.39),(4.02,0.29),(4.22,0.36),(4.32,0.32),(4.52,0.53),(4.68,0.29),(4.92,0.27),(5.1,0.23),(5.26,0.06),(5.46,0.07),(5.76,0.04),(6,0.04)]
ss_p8 = [(-6,0.08),(-5.88,0.1),(-5.75,0.06),(-5.5,0.03),(-5.0,0.02),(-4.5,0.01),(-0.2,0.01),(0,0),(1.5,0),(2.1,0.05),(2.6,0.02),(4,0.01),(6,0.01)]

tdos_ac_p8 = [(-6,2.87),(-5.9,3.33),(-5.84,3.55),(-5.76,1.94),(-5.6,1.17),(-5.24,0.77),(-4.76,0.49),(-4.59,0.31),(-4.47,0),(-3.87,0),(-3.71,1.64),(-3.57,1.48),(-3.33,1.48),(-3.15,2.1),(-2.97,2.87),(-2.79,3.8),(-2.67,3.64),(-2.49,4.88),(-2.31,3.49),(-2.19,3.33),(-2.01,2.93),(-1.83,3.33),(-1.65,4.26),(-1.55,4.26),(-1.37,4.97),(-1.23,3.49),(-1.05,2.72),(-0.87,2.56),(-0.69,4.57),(-0.57,4.41),(-0.39,5.28),(-0.27,3.64),(-0.15,1.79),(0.01,0),(1.29,0),(1.47,0.4),(1.71,0.86),(1.95,1.79),(2.13,3.02),(2.31,3.73),(2.43,3.18),(2.61,3.64),(2.79,2.1),(2.97,3.18),(3.15,3.64),(3.33,4.26),(3.57,4.41),(3.78,5.65),(3.93,4.26),(4.05,3.95),(4.17,3.02),(4.35,6.73),(4.47,4.88),(4.61,2.41),(4.79,2.87),(4.95,2.56),(5.09,4.26),(5.25,2.41),(5.43,2.93),(5.61,3.33),(5.85,4.1),(6,3.95)]
snp_ac_p8 = [(-6,0.02),(-5.84,0),(-3.87,0),(-3.71,0.08),(-3.21,0.08),(-3.03,0.13),(-2.79,0.19),(-2.67,0.17),(-2.49,0.25),(-2.31,0.19),(-2.01,0.15),(-1.77,0.14),(-1.65,0.16),(-1.53,0.14),(-1.35,0.17),(-1.17,0.13),(-0.87,0.11),(-0.69,0.2),(-0.57,0.17),(-0.39,0.24),(-0.27,0.13),(-0.15,0.05),(0.01,0),(1.29,0),(1.47,0.05),(1.71,0.12),(2.01,0.28),(2.31,0.47),(2.45,0.43),(2.61,0.49),(2.79,0.3),(2.97,0.4),(3.15,0.47),(3.33,0.61),(3.51,0.59),(3.78,0.69),(3.93,0.55),(4.08,0.51),(4.2,0.36),(4.35,0.6),(4.47,0.44),(4.61,0.32),(4.77,0.34),(4.95,0.28),(5.07,0.36),(5.19,0.24),(5.31,0.13),(5.49,0.14),(5.73,0.13),(6,0.09)]
sns_ac_p8 = [(-6,0.67),(-5.9,0.78),(-5.84,0.71),(-5.78,0.47),(-5.72,0.28),(-5.48,0.2),(-5.12,0.15),(-4.64,0.11),(-4.53,0.05),(-4.47,0.01),(-3.69,0.03),(-3.33,0.04),(-1.53,0.03),(-1.29,0.07),(-0.93,0.11),(-0.75,0.24),(-0.51,0.26),(-0.35,0.28),(-0.24,0.13),(-0.09,0.02),(0,0.01),(1.29,0),(2.55,0.04),(4.23,0.04),(4.37,0.11),(4.53,0.01),(6,0.005)]
sp_ac_p8 = [(-6,0.14),(-5.87,0.19),(-5.75,0.09),(-5.48,0.05),(-4.53,0.02),(-3.87,0),(-3.71,0.22),(-3.33,0.22),(-3.15,0.32),(-2.97,0.43),(-2.79,0.66),(-2.67,0.64),(-2.49,0.92),(-2.31,0.69),(-2.19,0.66),(-2.01,0.59),(-1.83,0.69),(-1.71,0.95),(-1.55,1.01),(-1.37,1.18),(-1.23,0.66),(-1.05,0.55),(-0.87,0.5),(-0.69,0.89),(-0.57,0.83),(-0.39,1.02),(-0.27,0.66),(-0.15,0.26),(0.01,0),(1.35,0),(1.95,0.06),(2.31,0.11),(2.61,0.16),(2.79,0.11),(3.03,0.2),(3.39,0.29),(3.78,0.39),(3.93,0.34),(4.05,0.36),(4.17,0.27),(4.35,0.57),(4.47,0.37),(4.61,0.26),(4.77,0.27),(4.95,0.25),(5.09,0.29),(5.25,0.06),(5.55,0.04),(6,0.04)]

tdos_b_p8 = [(-6,5.19),(-5.92,3.08),(-5.8,2.96),(-5.68,3.27),(-5.56,4.31),(-5.46,3.08),(-5.38,1.73),(-5.2,1.15),(-4.84,0.77),(-4.54,0.5),(-4.42,0),(-3.28,0),(-3.11,1.65),(-2.99,1.73),(-2.63,1.73),(-2.45,3.15),(-2.33,3.46),(-2.15,4.5),(-2.03,5.0),(-1.87,5.0),(-1.73,3.65),(-1.63,3.19),(-1.43,3.27),(-1.25,5.27),(-1.13,4.04),(-1.01,4.62),(-0.87,5.77),(-0.77,4.23),(-0.65,2.69),(-0.47,3.85),(-0.35,6.92),(-0.23,6.54),(-0.14,4.04),(-0.05,1.54),(0.06,0),(1.72,0),(1.98,1.54),(2.22,3.46),(2.4,2.88),(2.6,3.58),(2.73,2.96),(2.84,3.65),(3.02,2.81),(3.17,4.42),(3.29,5.0),(3.44,4.88),(3.63,5.65),(3.77,4.42),(3.95,2.81),(4.11,4.88),(4.25,2.5),(4.49,8.46),(4.61,5.58),(4.73,2.31),(4.91,2.12),(5.12,1.15),(5.27,1.27),(5.45,2.12),(5.63,2.81),(5.81,3.35),(6,4.04)]
snp_b_p8 = [(-6,0),(-3.28,0),(-3.11,0.075),(-2.57,0.075),(-2.42,0.15),(-2.21,0.19),(-1.97,0.25),(-1.85,0.25),(-1.67,0.16),(-1.43,0.13),(-1.25,0.2),(-1.13,0.15),(-1.01,0.16),(-0.87,0.21),(-0.77,0.12),(-0.65,0.1),(-0.47,0.25),(-0.32,0.28),(-0.23,0.25),(-0.11,0.13),(-0.02,0.03),(0.06,0),(1.72,0),(1.98,0.19),(2.22,0.51),(2.4,0.44),(2.58,0.47),(2.73,0.38),(2.84,0.47),(3.06,0.44),(3.27,0.72),(3.44,0.72),(3.63,0.79),(3.8,0.57),(3.95,0.34),(4.11,0.61),(4.25,0.31),(4.49,0.79),(4.63,0.51),(4.79,0.31),(4.97,0.24),(5.09,0.1),(5.23,0.03),(5.51,0.09),(6,0.12)]
sns_b_p8 = [(-6,1.44),(-5.92,0.77),(-5.8,0.72),(-5.68,0.89),(-5.56,1.0),(-5.46,0.8),(-5.38,0.42),(-5.2,0.31),(-4.9,0.2),(-4.6,0.15),(-4.48,0.08),(-4.36,0.02),(-3.28,0.03),(-1.01,0.03),(-0.83,0.09),(-0.41,0.19),(-0.29,0.34),(-0.2,0.33),(-0.11,0.13),(0.04,0),(1.7,0),(2.58,0.03),(4.31,0.03),(4.49,0.12),(4.63,0.005),(6,0.005)]
sp_b_p8 = [(-6,0.25),(-5.86,0.13),(-5.68,0.13),(-5.53,0.17),(-5.38,0.07),(-5.08,0.04),(-4.48,0.02),(-3.28,0),(-3.11,0.25),(-2.63,0.26),(-2.45,0.52),(-2.27,0.63),(-2.09,0.89),(-1.91,0.98),(-1.79,0.89),(-1.61,0.63),(-1.43,0.66),(-1.25,1.17),(-1.13,0.95),(-1.01,1.06),(-0.87,1.24),(-0.77,0.89),(-0.65,0.55),(-0.53,0.69),(-0.45,1.24),(-0.35,1.42),(-0.23,1.35),(-0.15,1.06),(-0.05,0.32),(0.04,0),(1.74,0),(2.22,0.09),(2.7,0.14),(2.91,0.16),(3.06,0.14),(3.23,0.29),(3.41,0.34),(3.63,0.44),(3.77,0.34),(3.95,0.23),(4.11,0.39),(4.25,0.21),(4.49,0.78),(4.61,0.6),(4.73,0.29),(4.91,0.26),(5.03,0.14),(5.12,0.03),(5.45,0.06),(6,0.03)]

# ---------------- labels ----------------
GROUP_LABELS = ["(a)", "(b)", "(c)", "(d)"]
STRAIN_TEXT = ["–8%", "–4%", "4%", "8%"]
DIR_SUB = ["zz", "ac", "b"]
ROW_TITLES = ["TDOS", "PDOS", "PDOS"]
X_TICKS = [-6, -4, -2, 0, 2, 4, 6]

PANELS = [
    [(tdos_zz_m8, snp_zz_m8, sns_zz_m8, sp_zz_m8, ss_m8),
     (tdos_ac_m8, snp_ac_m8, sns_ac_m8, sp_ac_m8, ss_m8),
     (tdos_b_m8, snp_b_m8, sns_b_m8, sp_b_m8, ss_m8)],
    [(tdos_zz_m4, snp_zz_m4, sns_zz_m4, sp_zz_m4, ss_m4),
     (tdos_ac_m4, snp_ac_m4, sns_ac_m4, sp_ac_m4, ss_m4),
     (tdos_b_m4, snp_b_m4, sns_b_m4, sp_b_m4, ss_m4)],
    [(tdos_zz_p4, snp_zz_p4, sns_zz_p4, sp_zz_p4, ss_p4),
     (tdos_ac_p4, snp_ac_p4, sns_ac_p4, sp_ac_p4, ss_p4),
     (tdos_b_p4, snp_b_p4, sns_b_p4, sp_b_p4, ss_p4)],
    [(tdos_zz_p8, snp_zz_p8, sns_zz_p8, sp_zz_p8, ss_p8),
     (tdos_ac_p8, snp_ac_p8, sns_ac_p8, sp_ac_p8, ss_p8),
     (tdos_b_p8, snp_b_p8, sns_b_p8, sp_b_p8, ss_p8)],
]

# ---------------- geometry / styles ----------------
COL_X = [(80, 414), (446, 779), (810, 1143)]
GROUP_TOP = [13.3, 341.3, 666.5, 991.7]
ROW_OFF = [0, 103, 206]
PANEL_H = 86
AX = "#444444"
C_TOT, C_SNP, C_SNS, C_SP, C_SS = "#000000", "#ff0000", "#ff00ff", "#0000ff", "#00cc00"
DASH = "4px,2px"


def yr_for(g, c, r):
    if r == 0:
        return [0, 10] if (g == 3 and c == 2) else [0, 8]
    if r == 1:
        return [0, 1.5] if (g == 3 and c == 2) else [0, 1]
    return [0, 1.5]


def ticks_for(r, rng):
    if r == 0:
        return (4, 1) if rng[1] == 8 else (2, 1)
    return (0.5, 0.25)


def px(x):
    return x / W


def py(y):
    return 1 - y / H


fig = go.Figure()
layout = dict(width=W, height=H, margin=dict(l=0, r=0, t=0, b=0), autosize=False,
              template="none", paper_bgcolor="white", plot_bgcolor="white",
              font=dict(family=FONT, size=20, color="black"), showlegend=True)
annotations, shapes = [], []
k = 0
nleg = 0

for g in range(4):
    for c in range(3):
        tdos, snp, sns, sp, ss = PANELS[g][c]
        row_series = [
            [("Total", tdos, C_TOT, "solid")],
            [("Sn-<i>p</i>", snp, C_SNP, "solid"), ("Sn-<i>s</i>", sns, C_SNS, DASH)],
            [("S-<i>p</i>", sp, C_SP, "solid"), ("S-<i>s</i>", ss, C_SS, DASH)],
        ]
        x0, x1 = COL_X[c]
        for r in range(3):
            k += 1
            top = GROUP_TOP[g] + ROW_OFF[r]
            bot = top + PANEL_H
            xa = "xaxis" if k == 1 else f"xaxis{k}"
            ya = "yaxis" if k == 1 else f"yaxis{k}"
            xr = "x" if k == 1 else f"x{k}"
            yrf = "y" if k == 1 else f"y{k}"
            rng = yr_for(g, c, r)
            major, minor = ticks_for(r, rng)
            bottom_row = (r == 2)
            last = (g == 3 and r == 2)
            xaxis = dict(
                domain=[px(x0), px(x1)], range=[-6, 6], anchor=yrf,
                showline=True, mirror=True, linecolor=AX, linewidth=1.3,
                showgrid=False, zeroline=False,
                ticks="inside" if bottom_row else "", tickvals=X_TICKS, ticklen=7,
                tickcolor=AX, tickwidth=1,
                minor=dict(dtick=0.4, tick0=0, ticks="inside" if bottom_row else "",
                           ticklen=4, tickcolor=AX, tickwidth=1, showgrid=False),
                showticklabels=last, tickfont=dict(family=FONT, size=24),
                ticklabelstandoff=1,
            )
            if last:
                xaxis["title"] = dict(text="Energy, eV", font=dict(family=FONT, size=25), standoff=4)
            layout[xa] = xaxis
            layout[ya] = dict(
                domain=[py(bot), py(top)], range=rng, anchor=xr,
                showline=True, mirror=True, linecolor=AX, linewidth=1.3,
                showgrid=False, zeroline=False,
                ticks="inside", dtick=major, tick0=0, ticklen=5, tickcolor=AX, tickwidth=1,
                minor=dict(dtick=minor, tick0=0, ticks="inside", ticklen=5,
                           tickcolor=AX, tickwidth=1, showgrid=False),
                showticklabels=(c == 0), tickfont=dict(family=FONT, size=24),
                ticklabelstandoff=6,
            )
            # series (dashed first so the solid curve stays on top)
            items = row_series[r]
            for j in list(range(len(items)))[::-1]:
                name, pts, col, dash = items[j]
                nleg += 1
                lid = "legend" if nleg == 1 else f"legend{nleg}"
                fig.add_trace(go.Scatter(
                    x=[p[0] for p in pts], y=[p[1] for p in pts], mode="lines",
                    line=dict(color=col, width=1.4, dash=dash, shape="spline", smoothing=0.5),
                    name=name, legend=lid, xaxis=xr, yaxis=yrf, hoverinfo="skip"))
                xoff = 17 if g == 1 else 22
                dy = [19, 21, 17][r] if c == 2 else [16, 17, 15][r]
                ly = top + dy + 17 * j
                layout[lid] = dict(
                    x=px(x0 + xoff - 5), y=py(ly), xanchor="left", yanchor="middle",
                    bgcolor="rgba(0,0,0,0)", borderwidth=0, itemwidth=30,
                    font=dict(family=FONT, size=19, color=col),
                    itemclick=False, itemdoubleclick=False)
            # Fermi level marker
            shapes.append(dict(type="line", xref=xr, yref=f"{yrf} domain",
                               x0=FERMI, x1=FERMI, y0=0, y1=1,
                               line=dict(color="#222222", width=1, dash="4px,3px"), layer="below"))
            # row titles (left column only)
            if c == 0:
                yc = top + PANEL_H / 2 + (13 if r == 0 else 2)
                annotations.append(dict(text=ROW_TITLES[r], x=px(22), y=py(yc),
                                        xref="paper", yref="paper", showarrow=False,
                                        textangle=-90, font=dict(family=FONT, size=25),
                                        xanchor="center", yanchor="middle"))
            # strain annotation
            if r == 1:
                zx = x0 + (x1 - x0) / 2
                annotations.append(dict(
                    text=f"ε<sub><i>{DIR_SUB[c]}</i></sub> = {STRAIN_TEXT[g]}",
                    x=px(zx + (15 if c == 0 else 13)), y=py(top + 20),
                    xref="paper", yref="paper", showarrow=False,
                    xanchor="left", yanchor="middle",
                    font=dict(family=FONT, size=24, color="black")))
    annotations.append(dict(text=f"<b>{GROUP_LABELS[g]}</b>", x=px(6), y=py(GROUP_TOP[g] + 6),
                            xref="paper", yref="paper", showarrow=False,
                            xanchor="left", yanchor="middle",
                            font=dict(family=FONT, size=26, color="black")))

layout["annotations"] = annotations
layout["shapes"] = shapes
fig.update_layout(**layout)
fig.write_html("out.html")
